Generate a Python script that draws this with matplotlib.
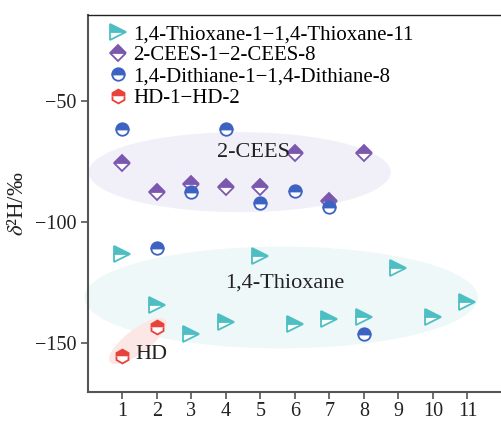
import numpy as np
import matplotlib
matplotlib.use('Agg')
import matplotlib.pyplot as plt
from matplotlib.patches import Ellipse, Polygon

plt.rcParams['font.family'] = ['Liberation Serif', 'DejaVu Serif']
plt.rcParams['mathtext.fontset'] = 'stix'
plt.rcParams['axes.unicode_minus'] = True

# delta 2H values (per mil) of each sample series
thioxane_x = [1, 2, 3, 4, 5, 6, 7, 8, 9, 10, 11]
thioxane_y = [-113, -134, -146, -141, -114, -142, -140, -139, -119, -139, -133]
cees_x = [1, 2, 3, 4, 5, 6, 7, 8]
cees_y = [-75.5, -87.5, -84, -85.5, -85.5, -71.5, -91, -71.5]
dithiane_x = [1, 2, 3, 4, 5, 6, 7, 8]
dithiane_y = [-61.5, -110.5, -87.5, -61.5, -92, -87, -93.5, -146]
hd_x = [1, 2]
hd_y = [-155, -143]

# (x, y, marker, size, colour, label)
series = [
    (thioxane_x, thioxane_y, '>', 11, '#4dbfc3', '1,4-Thioxane-1\u22121,4-Thioxane-11'),
    (cees_x, cees_y, 'D', 8.5, '#7b58ae', '2-CEES-1\u22122-CEES-8'),
    (dithiane_x, dithiane_y, 'o', 9, '#3d63c2', '1,4-Dithiane-1\u22121,4-Dithiane-8'),
    (hd_x, hd_y, 'h', 10, '#e8433b', 'HD-1\u2212HD-2'),
]

fig = plt.figure(figsize=(5.02, 4.21), dpi=100)
ax = fig.add_axes([0.175, 0.069, 0.825, 0.895])
ax.set_xlim(0, 12)
ax.set_ylim(-170, -14.5)

# shaded group regions
ax.add_patch(Ellipse((4.4, -79.3), 8.75, 33, facecolor='#f1eff8', edgecolor='none', zorder=0))
ax.add_patch(Ellipse((5.6, -131), 11.4, 42, facecolor='#eef8f8', edgecolor='none',
                     zorder=0, clip_on=False))

# tilted HD region, built in pixel space then mapped to data units
px_x = 34.5
px_y = 2.42
t = np.linspace(0, 2 * np.pi, 100)
a, b, th = 35.0, 12.0, np.deg2rad(37)
u = a * np.cos(t) * np.cos(th) - b * np.sin(t) * np.sin(th)
v = a * np.cos(t) * np.sin(th) + b * np.sin(t) * np.cos(th)
hd_pts = np.column_stack([1.45 + u / px_x, -149 + v / px_y])
ax.add_patch(Polygon(hd_pts, closed=True, facecolor='#fbe8e6', edgecolor='none', zorder=0))

for xs, ys, mk, ms, col, lab in series:
    ax.plot(xs, ys, linestyle='none', marker=mk, markersize=ms, color=col,
            fillstyle='top', markerfacecoloralt='white', markeredgecolor=col,
            markeredgewidth=1.3, label=lab, zorder=3)

ax.text(4.8, -71, '2-CEES', fontsize=16, ha='center', va='center', color='#222222')
ax.text(5.7, -125, '1,4-Thioxane', fontsize=16, ha='center', va='center', color='#222222')
ax.text(1.85, -154.5, 'HD', fontsize=16, ha='center', va='center', color='#222222')

ax.set_xticks(range(1, 12))
ax.set_yticks([-150, -100, -50])
ax.tick_params(direction='out', length=5, width=1.2, color='#555555', labelsize=14.5,
               labelcolor='#222222')
ax.tick_params(axis='x', pad=2)
ax.spines['right'].set_visible(False)
for s in ['left', 'bottom']:
    ax.spines[s].set_color('#555555')
    ax.spines[s].set_linewidth(1.5)
ax.spines['top'].set_color('#222222')
ax.spines['top'].set_linewidth(1.0)

ax.set_ylabel('$\\delta$\u00b2H/\u2030', fontsize=16.5, color='#222222')
ax.yaxis.set_label_coords(-0.145, 0.5)

ax.legend(loc='upper left', bbox_to_anchor=(0.03, 1.0), frameon=False, fontsize=15,
          handlelength=0.8, handletextpad=0.35, labelspacing=0.08, borderaxespad=0.15,
          borderpad=0.3)

fig.savefig('out.png', dpi=100)
